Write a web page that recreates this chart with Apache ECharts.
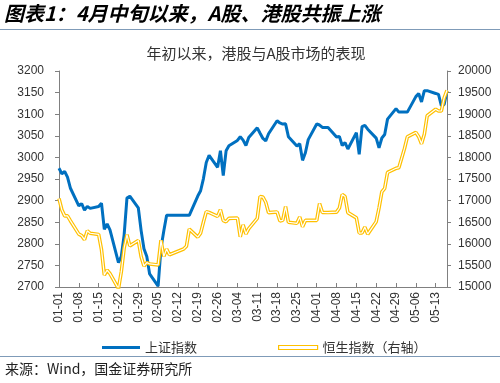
<!DOCTYPE html>
<html>
<head>
<meta charset="utf-8">
<script src="https://cdn.jsdelivr.net/npm/echarts@6/dist/echarts.min.js"></script>
<style>html,body{margin:0;padding:0;background:#fff;}#main{width:500px;height:383px;}</style>
</head>
<body>
<div id="main"></div>
<script>
var dates = ['01-01','01-02','01-03','01-04','01-05','01-08','01-09','01-10','01-11','01-12','01-15','01-16','01-17','01-18','01-19','01-22','01-23','01-24','01-25','01-26','01-29','01-30','01-31','02-01','02-02','02-05','02-06','02-07','02-08','02-09','02-14','02-15','02-16','02-19','02-20','02-21','02-22','02-23','02-26','02-27','02-28','02-29','03-01','03-04','03-05','03-06','03-07','03-08','03-11','03-12','03-13','03-14','03-15','03-18','03-19','03-20','03-21','03-22','03-25','03-26','03-27','03-28','03-29','04-01','04-02','04-03','04-05','04-08','04-09','04-10','04-11','04-12','04-15','04-16','04-17','04-18','04-19','04-22','04-23','04-24','04-25','04-26','04-29','04-30','05-02','05-03','05-06','05-07','05-08','05-09','05-10','05-13','05-14','05-15','05-16','05-17'];
var shIndex = [2974.93,2962.28,2967.25,2954.35,2929.18,2887.54,2893.25,2877.70,2886.65,2881.98,2886.29,2893.99,2833.62,2845.78,2832.28,2756.34,2770.98,2820.77,2906.11,2910.22,2883.36,2830.53,2788.55,2770.74,2730.15,2702.19,2789.49,2829.70,2865.90,2865.90,2865.90,2865.90,2865.90,2910.54,2922.73,2950.96,2988.36,3004.88,2977.02,3015.48,2957.85,3015.17,3027.02,3039.31,3047.79,3039.93,3027.40,3046.02,3068.46,3055.94,3043.83,3038.23,3054.64,3084.93,3079.69,3077.11,3077.62,3048.03,3026.31,3031.48,2993.14,3010.66,3041.17,3077.38,3074.96,3069.30,3069.30,3047.05,3048.54,3027.34,3034.25,3019.47,3057.38,3007.07,3071.38,3074.22,3065.26,3044.60,3021.98,3044.82,3052.90,3088.64,3113.04,3104.82,3104.82,3104.82,3140.72,3147.74,3128.48,3154.32,3154.55,3148.02,3145.77,3119.90,3122.40,3154.03];
var hsIndex = [17047.39,16788.55,16646.41,16645.98,16535.33,16224.45,16190.02,16097.28,16302.01,16244.58,16216.33,15865.92,15276.90,15391.83,15308.69,14961.18,15353.98,15899.87,16211.96,15952.23,16077.24,15703.45,15485.07,15566.21,15533.56,15510.01,16081.89,15707.59,15878.07,15746.58,15879.38,15944.63,16339.96,16155.61,16247.51,16503.10,16742.95,16725.86,16634.74,16790.80,16536.85,16511.44,16589.44,16595.97,16162.64,16438.09,16229.78,16353.39,16587.52,17093.50,17082.11,16961.64,16720.89,16737.11,16529.48,16543.07,16863.10,16499.47,16473.64,16618.32,16392.84,16541.42,16541.42,16541.42,16931.52,16725.10,16723.92,16732.85,16828.07,17139.17,17095.03,16721.69,16600.46,16248.97,16251.84,16385.87,16224.14,16511.69,16828.93,17201.27,17284.54,17651.15,17746.91,17763.03,18207.13,18475.92,18578.30,18479.37,18313.86,18537.81,18963.68,19115.06,19073.71,19073.71,19376.53,19553.61];
var leftTicks = {min: 2700, max: 3200, interval: 50};
var rightTicks = {min: 15000, max: 20000, interval: 500};
var seriesNames = ['上证指数', '恒生指数（右轴）'];
var titleText = '图表1：4月中旬以来，A股、港股共振上涨';
var subTitleText = '年初以来，港股与A股市场的表现';
var sourceText = '来源：Wind，国金证券研究所';

var DAY = 86400000;
var base = Date.UTC(2024, 0, 1);
function dayIdx(s) { var p = s.split('-'); return (Date.UTC(2024, +p[0] - 1, +p[1]) - base) / DAY; }
function dayLabel(v) {
  var d = new Date(base + v * DAY);
  var m = d.getUTCMonth() + 1, dd = d.getUTCDate();
  return (m < 10 ? '0' : '') + m + '-' + (dd < 10 ? '0' : '') + dd;
}
var xs = dates.map(dayIdx);
var lastX = xs[xs.length - 1];
var shData = xs.map(function (x, i) { return [x, shIndex[i]]; });
var hsData = xs.map(function (x, i) { return [x, hsIndex[i]]; });

var BLUE = '#0070C0', YELLOW = '#FFC000';
var FONT = '"Noto Sans CJK SC", sans-serif';
var NUMFONT = '"Liberation Sans", Arial, sans-serif';
var plain = function (v) { return String(v); };
var chart = echarts.init(document.getElementById('main'), null, {renderer: 'canvas'});
chart.setOption({
  animation: false,
  backgroundColor: '#fff',
  grid: {left: 59, right: 53, top: 71, bottom: 96},
  graphic: [
    {type: 'text', left: 4, top: 3, style: {text: titleText, font: 'italic bold 20px ' + FONT, fill: '#000'}},
    {type: 'line', shape: {x1: 0, y1: 29.5, x2: 500, y2: 29.5}, style: {stroke: '#7F9BB8', lineWidth: 1}},
    {type: 'text', x: 256, y: 53, style: {text: subTitleText, font: '15px ' + FONT, fill: '#333', align: 'center', verticalAlign: 'middle'}},
    {type: 'line', shape: {x1: 0, y1: 356.5, x2: 500, y2: 356.5}, style: {stroke: '#7F9BB8', lineWidth: 1}},
    {type: 'text', left: 5, top: 362, style: {text: sourceText, font: '14px ' + FONT, fill: '#222'}}
  ],
  legend: [
    {left: 97, top: 336, data: [seriesNames[0]], icon: 'rect', itemWidth: 38, itemHeight: 3,
     textStyle: {fontSize: 13, color: '#333', fontFamily: FONT}},
    {left: 273, top: 336, data: [seriesNames[1]], icon: 'rect', itemWidth: 39, itemHeight: 4,
     itemStyle: {color: '#fff', borderColor: YELLOW, borderWidth: 1.2},
     textStyle: {fontSize: 13, color: '#333', fontFamily: FONT}}
  ],
  xAxis: {
    type: 'value', min: 0, max: lastX, interval: 7,
    axisLine: {lineStyle: {color: '#808080', width: 1}},
    axisTick: {inside: true, length: 4, lineStyle: {color: '#808080'}},
    splitLine: {show: false},
    axisLabel: {rotate: 90, margin: 5, fontSize: 12, color: '#333', fontFamily: NUMFONT,
      showMaxLabel: false,
      formatter: function (v) { return v % 7 === 0 ? dayLabel(v) : ''; }}
  },
  yAxis: [
    {type: 'value', min: leftTicks.min, max: leftTicks.max, interval: leftTicks.interval, position: 'left',
     axisLine: {show: true, lineStyle: {color: '#808080'}},
     axisTick: {show: true, length: 4, lineStyle: {color: '#808080'}},
     splitLine: {show: false},
     axisLabel: {margin: 15, fontSize: 12, color: '#333', fontFamily: NUMFONT, formatter: plain}},
    {type: 'value', min: rightTicks.min, max: rightTicks.max, interval: rightTicks.interval, position: 'right',
     axisLine: {show: true, lineStyle: {color: '#808080'}},
     axisTick: {show: true, length: 4, lineStyle: {color: '#808080'}},
     splitLine: {show: false},
     axisLabel: {margin: 11, fontSize: 12, color: '#333', fontFamily: NUMFONT, formatter: plain}}
  ],
  series: [
    {name: seriesNames[0], type: 'line', yAxisIndex: 0, data: shData, showSymbol: false, symbol: 'none',
     color: BLUE, itemStyle: {color: BLUE}, lineStyle: {color: BLUE, width: 3}, z: 2},
    {name: seriesNames[1], type: 'line', yAxisIndex: 1, data: hsData, showSymbol: false, symbol: 'none',
     color: YELLOW, itemStyle: {color: YELLOW}, lineStyle: {color: YELLOW, width: 3.6}, z: 3},
    {name: 'hs-inner', type: 'line', yAxisIndex: 1, data: hsData, showSymbol: false, symbol: 'none',
     lineStyle: {color: '#fff', width: 1.2}, z: 4, silent: true}
  ]
});
</script>
</body>
</html>
